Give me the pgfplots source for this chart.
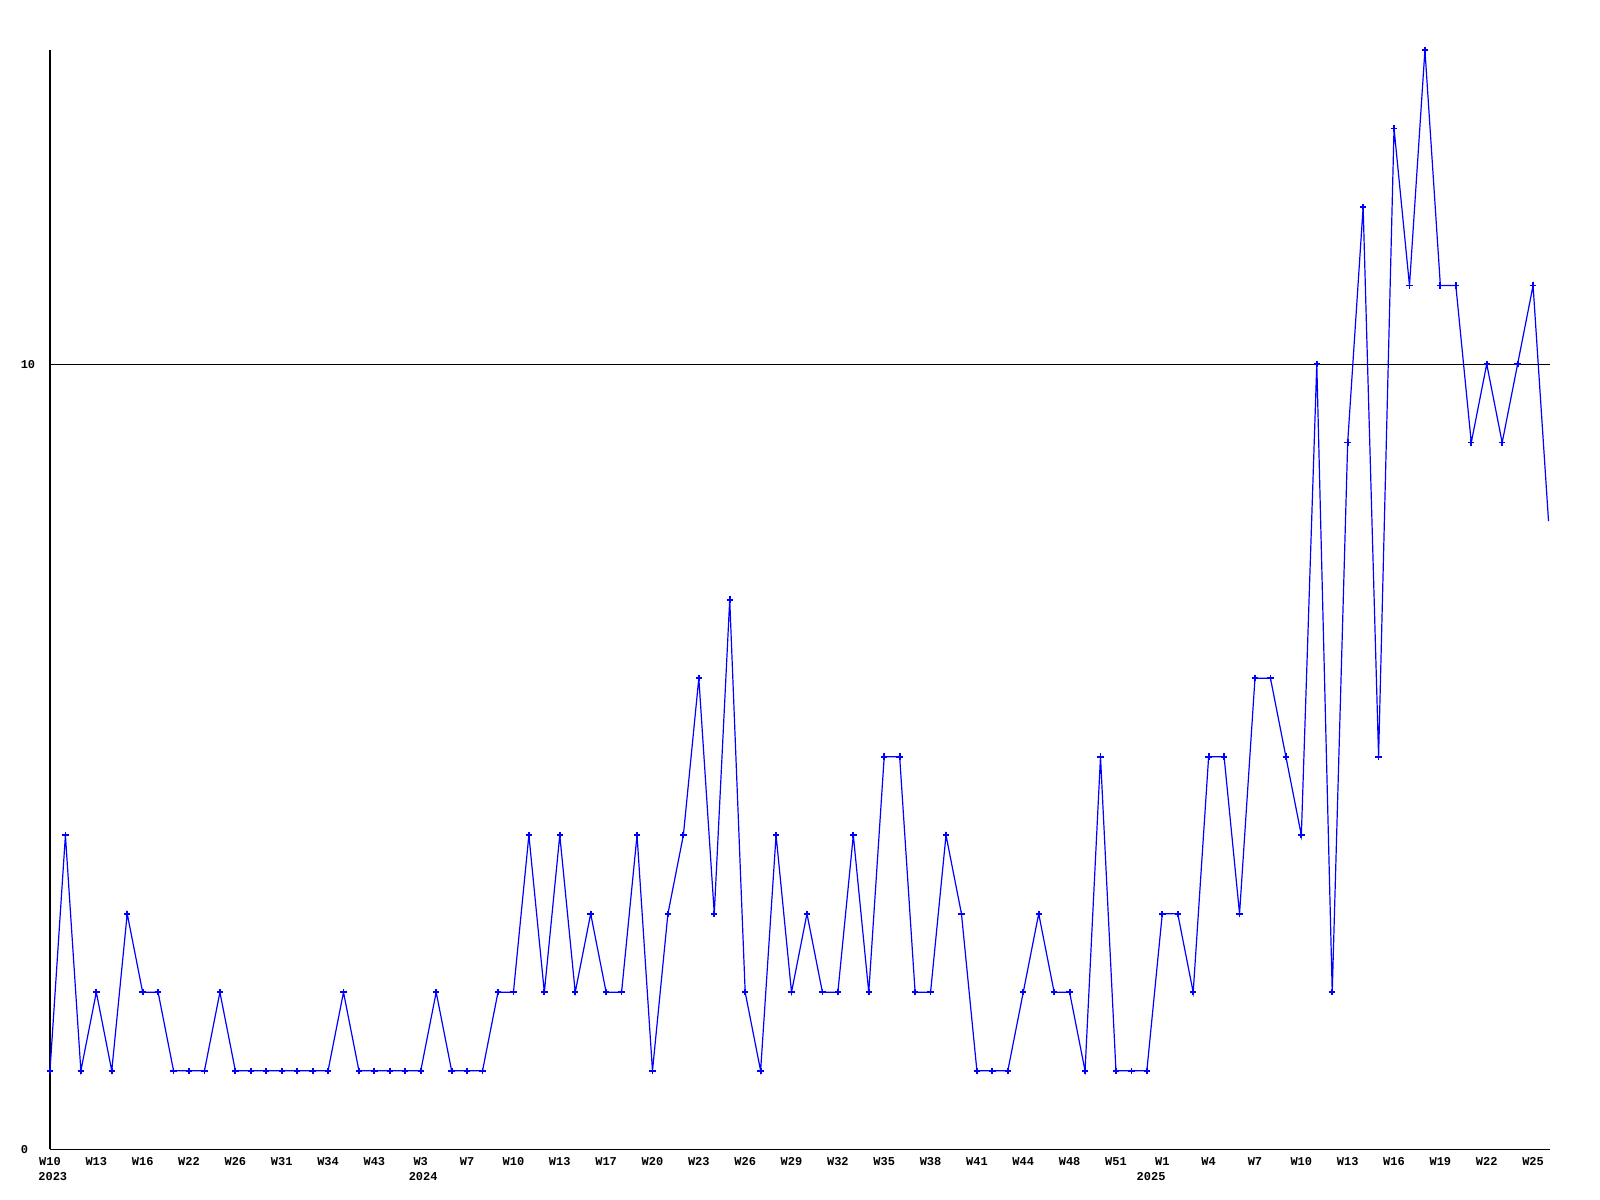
\documentclass[border=0pt]{standalone}
\usepackage{fontspec}
\setmainfont{Liberation Mono}
\usepackage{pgfplots}
\pgfplotsset{compat=1.18}
\usepackage{pgfplotstable}

% weekly counts, one row per plotted week (x = running index)
\pgfplotstableread{
i v
0 1
1 4
2 1
3 2
4 1
5 3
6 2
7 2
8 1
9 1
10 1
11 2
12 1
13 1
14 1
15 1
16 1
17 1
18 1
19 2
20 1
21 1
22 1
23 1
24 1
25 2
26 1
27 1
28 1
29 2
30 2
31 4
32 2
33 4
34 2
35 3
36 2
37 2
38 4
39 1
40 3
41 4
42 6
43 3
44 7
45 2
46 1
47 4
48 2
49 3
50 2
51 2
52 4
53 2
54 5
55 5
56 2
57 2
58 4
59 3
60 1
61 1
62 1
63 2
64 3
65 2
66 2
67 1
68 5
69 1
70 1
71 1
72 3
73 3
74 2
75 5
76 5
77 3
78 6
79 6
80 5
81 4
82 10
83 2
84 9
85 12
86 5
87 13
88 11
89 14
90 11
91 11
92 9
93 10
94 9
95 10
96 11
97 8
}\weekly

% week label, with the year (if any) on a second line, shifted by #3
\newcommand\xl[3][0pt]{\begin{tabular}[t]{@{}l@{}}#2\\\makebox[0pt][l]{\hspace{#1}#3}\end{tabular}}

\begin{document}
\begin{tikzpicture}
\useasboundingbox (-12.5pt,-12.5pt) rectangle (387.75pt,287.5pt);
\begin{axis}[
    at={(0,0)}, anchor=south west,
    scale only axis, width=375.25pt, height=275pt,
    xmin=0, xmax=97.1, ymin=0, ymax=14,
    axis x line=bottom, axis y line=left,
    axis line style={-, line width=0.3pt},
    xtick={0,3,...,96},
    xticklabels={\xl[-0.2pt]{W10}{2023},\xl{W13}{},\xl{W16}{},\xl{W22}{},\xl{W26}{},
      \xl{W31}{},\xl{W34}{},\xl{W43}{},\xl[-1.2pt]{W3}{2024},\xl{W7}{},\xl{W10}{},
      \xl{W13}{},\xl{W17}{},\xl{W20}{},\xl{W23}{},\xl{W26}{},\xl{W29}{},
      \xl{W32}{},\xl{W35}{},\xl{W38}{},\xl{W41}{},\xl{W44}{},\xl{W48}{},
      \xl{W51}{},\xl[-4.6pt]{W1}{2025},\xl{W4}{},\xl{W7}{},\xl{W10}{},\xl{W13}{},
      \xl{W16}{},\xl{W19}{},\xl{W22}{},\xl{W25}{}},
    ytick={0,10},
    major tick length=0pt,
    ymajorgrids, grid style={black, line width=0.25pt},
    tick label style={font=\fontsize{3}{3.9}\selectfont\bfseries},
    yticklabel style={anchor=west, inner sep=0pt, xshift=-7.5pt},
    xticklabel style={anchor=north, inner sep=0pt, yshift=-1pt},
    /pgf/number format/assume math mode=true,
  ]
  \addplot[blue, line width=0.3pt, mark=none] table[x=i, y=v] {\weekly};
  \addplot[blue, only marks, mark=+, mark size=0.8pt,
    mark options={line width=0.45pt}, restrict x to domain=0:96]
    table[x=i, y=v] {\weekly};
\end{axis}
\end{tikzpicture}
\end{document}
